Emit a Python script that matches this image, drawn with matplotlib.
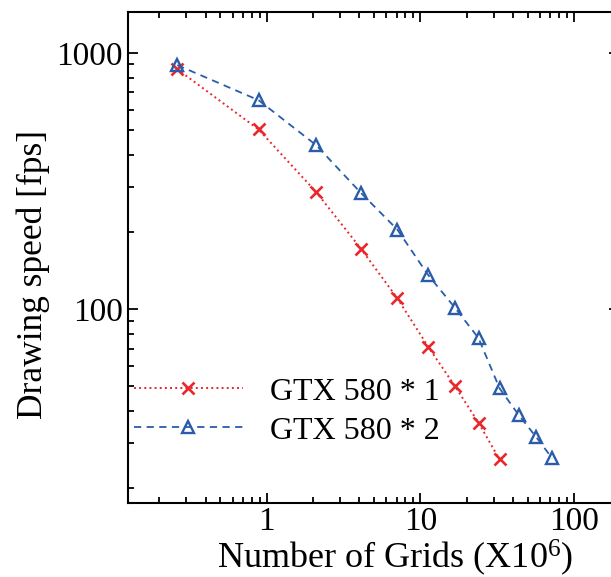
import numpy as np
import matplotlib
matplotlib.use("Agg")
import matplotlib.pyplot as plt

plt.rcParams['font.family'] = ['Liberation Serif', 'DejaVu Serif']
plt.rcParams['mathtext.fontset'] = 'custom'
plt.rcParams['mathtext.rm'] = 'Liberation Serif'
plt.rcParams['mathtext.it'] = 'Liberation Serif:italic'

# grid counts (millions) and drawing speeds
grids_1 = [0.262, 0.885, 2.097, 4.096, 7.078, 11.24, 16.78, 23.89, 32.77]
fps_1 = [863, 502, 286, 172, 110, 71.1, 49.9, 35.9, 25.8]

grids_2 = [0.262, 0.885, 2.097, 4.096, 7.078, 11.24, 16.78, 23.89, 32.77,
           43.62, 56.62, 71.99]
fps_2 = [895, 653, 436, 284, 204, 135.5, 101, 76.9, 48.9, 38.5, 31.6, 26.1]

labels = ['GTX 580 * 1', 'GTX 580 * 2']
red = '#e8282c'
blue = '#2a5caa'

fig = plt.figure(figsize=(6.11, 5.77), dpi=100)
ax = fig.add_axes([127.7 / 611, 1 - 503.3 / 577,
                   (619 - 127.7) / 611, (503.3 - 12) / 577])

ax.plot(grids_1, fps_1, linestyle=':', color=red, lw=1.4, marker='x',
        ms=9, mew=1.9, label=labels[0])
ax.plot(grids_2, fps_2, linestyle='--', color=blue, lw=1.3, marker='^',
        ms=9, mew=1.7, mfc='none', dashes=(4, 3), label=labels[1])

ax.set_xscale('log')
ax.set_yscale('log')
ax.set_xlim(0.1247, 196)
ax.set_ylim(17.4, 1443)

ax.set_xticks([1, 10, 100])
ax.set_xticklabels(['1', '10', '100'])
ax.set_yticks([100, 1000])
ax.set_yticklabels(['100', '1000'])

ax.tick_params(which='both', direction='in', top=True, right=True,
               labelsize=24, width=1.3)
ax.tick_params(axis='x', pad=2.5)
ax.tick_params(which='major', length=7)
ax.tick_params(which='minor', length=4.5)
for s in ax.spines.values():
    s.set_linewidth(1.5)

ax.set_xlabel('Number of Grids (X10$^{6}$)', fontsize=26)
ax.set_ylabel('Drawing speed [fps]', fontsize=25.5)
ax.xaxis.set_label_coords(0.544, -0.07)
ax.yaxis.set_label_coords(-0.158, 0.465)

ax.legend(loc='center left', bbox_to_anchor=(0.0, 0.187), frameon=False,
          fontsize=23, handlelength=3.4, handletextpad=0.85,
          labelspacing=0.3, borderpad=0.0, borderaxespad=0.2)

fig.savefig('out.png', dpi=100)
